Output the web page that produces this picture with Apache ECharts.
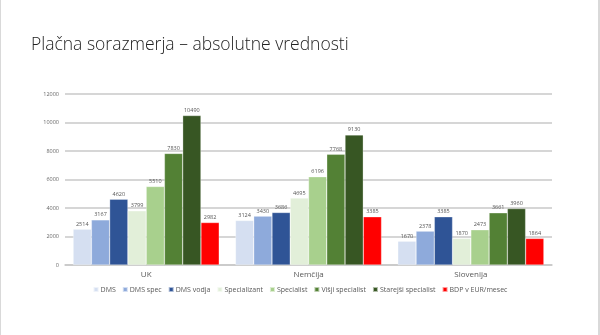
<!DOCTYPE html>
<html><head><meta charset="utf-8">
<script src="https://cdn.jsdelivr.net/npm/echarts@6/dist/echarts.min.js"></script>
<style>
html,body{margin:0;padding:0;background:#fff;}
#frame{position:absolute;left:0;top:0;width:597px;height:335px;border-left:1px solid #d9d9d9;border-right:2px solid #d9d9d9;}
#c{position:absolute;left:0;top:0;width:600px;height:335px;}
</style></head>
<body><div id="frame"></div><div id="c"></div>
<script>
const categories = ['UK', 'Nemčija', 'Slovenija'];
const seriesNames = ['DMS', 'DMS spec', 'DMS vodja', 'Specializant', 'Specialist', 'Višji specialist', 'Starejši specialist', 'BDP v EUR/mesec'];
const dms = [2514, 3124, 1670];
const dmsSpec = [3167, 3430, 2378];
const dmsVodja = [4620, 3686, 3385];
const specializant = [3799, 4695, 1870];
const specialist = [5510, 6196, 2473];
const visji = [7830, 7768, 3661];
const starejsi = [10490, 9130, 3960];
const bdp = [2982, 3385, 1864];
const yTicks = [0, 2000, 4000, 6000, 8000, 10000, 12000];
const colors = ['#d5dff1', '#8eaadb', '#2f5496', '#e2efd9', '#a8d08d', '#538135', '#375623', '#ff0000'];
const allData = [dms, dmsSpec, dmsVodja, specializant, specialist, visji, starejsi, bdp];

const chart = echarts.init(document.getElementById('c'));
chart.setOption({
  animation: false,
  title: {
    text: 'Plačna sorazmerja – absolutne vrednosti',
    left: 26, top: 31,
    textStyle: {fontFamily: 'Open Sans', fontWeight: 300, fontSize: 17.5, color: '#222'}
  },
  color: colors,
  legend: {
    bottom: 37, left: 'center',
    itemWidth: 5, itemHeight: 5, itemGap: 6,
    icon: 'rect',
    textStyle: {fontSize: 7, color: '#595959', fontFamily: 'Open Sans', padding: [0,0,0,-3]},
    data: seriesNames
  },
  grid: {left: 65, right: 48, top: 94, bottom: 70, containLabel: false},
  xAxis: {
    type: 'category', data: categories,
    axisLine: {lineStyle: {color: '#c8c8c8', width: 1.5}},
    axisTick: {show: false},
    axisLabel: {fontSize: 8, color: '#595959', fontFamily: 'Open Sans', margin: 6}
  },
  yAxis: {
    type: 'value', min: 0, max: 12000, interval: 2000,
    axisLine: {show: false}, axisTick: {show: false},
    splitLine: {lineStyle: {color: '#c8c8c8', width: 1.5}},
    axisLabel: {fontSize: 5.5, color: '#666', fontFamily: 'Open Sans', margin: 6,
      formatter: v => yTicks.includes(v) ? String(v) : ''}
  },
  series: allData.map((d, i) => ({
    name: seriesNames[i], type: 'bar', data: d,
    barGap: '0%', barCategoryGap: '10%',
    itemStyle: {borderColor: 'rgba(255,255,255,0.6)', borderWidth: 0.5},
    label: {show: true, position: 'top', fontSize: 5.5, color: '#555', distance: 2, fontFamily: 'Open Sans'}
  }))
});
</script></body></html>
